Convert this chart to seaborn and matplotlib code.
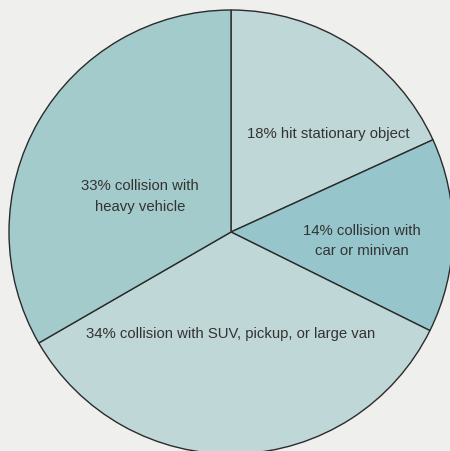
import numpy as np
import matplotlib
matplotlib.use("Agg")
import matplotlib.pyplot as plt
import seaborn as sns

# data (sums to 99, pie normalises)
SHARES  = [18, 14, 34, 33]
LABELS  = ["18% hit stationary object",
           "14% collision with\ncar or minivan",
           "34% collision with SUV, pickup, or large van",
           "33% collision with\nheavy vehicle"]
COLOURS = ["#bfd7d7", "#96c6cc", "#bfd7d7", "#a4cbcb"]

# label anchor points in radius units, relative to the pie centre
LABEL_X = [0.44, 0.59, 0.00, -0.41]
LABEL_Y = [0.44, -0.04, -0.46, 0.16]

sns.set_theme(style="white")
plt.rcParams["font.family"] = ["Liberation Sans Narrow", "Liberation Sans", "DejaVu Sans"]

BG = "#efefed"
fig = plt.figure(figsize=(4.5, 4.51), dpi=100, facecolor=BG)
ax = fig.add_axes([9 / 450, -3 / 451, 444 / 450, 444 / 451])
ax.set_facecolor(BG)

wedges, _ = ax.pie(SHARES, colors=COLOURS, startangle=90, counterclock=False,
                   radius=1.0,
                   wedgeprops=dict(edgecolor="#2b2b2b", linewidth=1.0))
for x, y, lab in zip(LABEL_X, LABEL_Y, LABELS):
    ax.text(x, y, lab, ha="center", va="center", fontsize=10.7,
            color="#333333", linespacing=1.55)

ax.set_xlim(-1, 1); ax.set_ylim(-1, 1)
ax.set_aspect("equal")
ax.axis("off")

fig.savefig("out.png", dpi=100, facecolor=BG)
